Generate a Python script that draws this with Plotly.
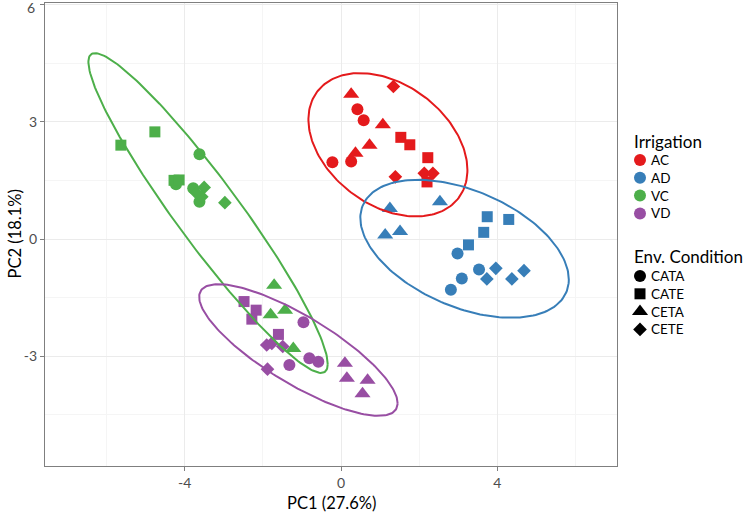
import numpy as np
import plotly.graph_objects as go

# ---------------- data ----------------
irrigation_levels = ["AC", "AD", "VC", "VD"]
irrigation_colors = ["#E41A1C", "#377EB8", "#4DAF4A", "#984EA3"]
env_levels = ["CATA", "CATE", "CETA", "CETE"]
env_symbols = ["circle", "square", "triangle-up", "diamond"]
env_sizes = [12, 11, 14, 10.5]

irrigation = (["AC"] * 16) + (["AD"] * 16) + (["VC"] * 16) + (["VD"] * 16)
env = (["CATA"] * 4 + ["CETA"] * 4 + ["CATE"] * 4 + ["CETE"] * 4) * 4

pc1 = [
    # AC
    0.42, 0.58, 0.26, -0.22,
    0.26, 1.07, 0.73, 0.37,
    1.53, 1.76, 2.22, 2.20,
    1.34, 1.39, 2.13, 2.35,
    # AD
    2.98, 3.53, 3.09, 2.81,
    2.53, 1.25, 1.13, 1.51,
    3.74, 4.29, 3.65, 3.26,
    3.96, 3.73, 4.37, 4.68,
    # VC
    -3.62, -4.22, -3.78, -3.62,
    -1.71, -1.80, -1.43, -1.22,
    -5.63, -4.76, -4.27, -4.14,
    -3.50, -2.97, -3.56, -3.70,
    # VD
    -0.96, -0.81, -0.58, -1.32,
    0.10, 0.15, 0.68, 0.55,
    -2.48, -2.17, -2.28, -1.60,
    -1.90, -1.77, -1.49, -1.88,
]
pc2 = [
    # AC
    3.32, 3.04, 1.98, 1.96,
    3.70, 2.92, 2.40, 2.19,
    2.60, 2.41, 2.08, 1.46,
    3.90, 1.59, 1.68, 1.68,
    # AD
    -0.37, -0.78, -1.01, -1.30,
    0.95, 0.78, 0.10, 0.19,
    0.57, 0.50, 0.17, -0.15,
    -0.75, -1.02, -1.02, -0.81,
    # VC
    2.17, 1.40, 1.30, 0.95,
    -1.18, -1.94, -1.82, -2.80,
    2.40, 2.74, 1.50, 1.51,
    1.32, 0.93, 1.08, 1.18,
    # VD
    -2.13, -3.05, -3.14, -3.22,
    -3.18, -3.56, -3.61, -3.96,
    -1.60, -1.82, -2.05, -2.44,
    -2.71, -2.67, -2.75, -3.33,
]

# 95% ellipse parameters per irrigation group (centre and shape matrix)
ell_cx = [1.20, 3.16, -3.40, -1.09]
ell_cy = [2.41, -0.25, 0.665, -2.84]
ell_sxx = [4.134, 7.109, 9.365, 6.437]
ell_sxy = [-1.313, -2.099, -11.82, -3.446]
ell_syy = [3.363, 3.114, 16.72, 2.836]

x_ticks = [-4, 0, 4]
y_ticks = [-3, 0, 3, 6]
x_title = "PC1 (27.6%)"
y_title = "PC2 (18.1%)"
legend_title_irr = "Irrigation"
legend_title_env = "Env. Condition"

# ---------------- layout constants (pixels) ----------------
W, H = 750, 513
L, T, B = 45, 3, 466          # panel left / top / bottom pixel
R_PANEL = 617                 # panel right pixel
FONT = "Lato"

fig = go.Figure()

# points
pc1_a = np.array(pc1)
pc2_a = np.array(pc2)
irr_a = np.array(irrigation)
env_a = np.array(env)
for gi, g in enumerate(irrigation_levels):
    for ei, e in enumerate(env_levels):
        m = (irr_a == g) & (env_a == e)
        fig.add_trace(go.Scatter(
            x=pc1_a[m], y=pc2_a[m], mode="markers",
            marker=dict(symbol=env_symbols[ei], size=env_sizes[ei],
                        color=irrigation_colors[gi], line=dict(width=0)),
            name=f"{g} {e}", showlegend=False, xaxis="x", yaxis="y"))

# ellipses
t = np.linspace(0, 2 * np.pi, 200)
for gi, g in enumerate(irrigation_levels):
    S = np.array([[ell_sxx[gi], ell_sxy[gi]], [ell_sxy[gi], ell_syy[gi]]])
    Lc = np.linalg.cholesky(S)
    pts = Lc @ np.vstack([np.cos(t), np.sin(t)])
    fig.add_trace(go.Scatter(
        x=ell_cx[gi] + pts[0], y=ell_cy[gi] + pts[1], mode="lines",
        line=dict(color=irrigation_colors[gi], width=2),
        hoverinfo="skip", showlegend=False, xaxis="x", yaxis="y"))

# ---------------- legend (drawn on a pixel-space overlay axis) ----------------
plot_w = W - L
x2_dom0 = 0.82
x2_left = L + x2_dom0 * plot_w
annotations = []
marker_x = 640
text_x = 649
irr_title_y = 141
irr_item_y0, step = 160, 17.8
env_title_y = 256
env_item_y0 = 276

annotations.append(dict(x=632, y=irr_title_y, xref="x2", yref="y2", text=legend_title_irr,
                        showarrow=False, xanchor="left", yanchor="middle",
                        font=dict(family=FONT, size=17, color="#000000")))
for gi, g in enumerate(irrigation_levels):
    yy = irr_item_y0 + gi * step
    fig.add_trace(go.Scatter(x=[marker_x], y=[yy], mode="markers", xaxis="x2", yaxis="y2",
                             marker=dict(symbol="circle", size=12, color=irrigation_colors[gi]),
                             showlegend=False, hoverinfo="skip"))
    annotations.append(dict(x=text_x, y=yy, xref="x2", yref="y2", text=g, showarrow=False,
                            xanchor="left", yanchor="middle",
                            font=dict(family=FONT, size=13.5, color="#000000")))

annotations.append(dict(x=632, y=env_title_y, xref="x2", yref="y2", text=legend_title_env,
                        showarrow=False, xanchor="left", yanchor="middle",
                        font=dict(family=FONT, size=17, color="#000000")))
for ei, e in enumerate(env_levels):
    yy = env_item_y0 + ei * step
    fig.add_trace(go.Scatter(x=[marker_x], y=[yy], mode="markers", xaxis="x2", yaxis="y2",
                             marker=dict(symbol=env_symbols[ei], size=env_sizes[ei], color="#000000"),
                             showlegend=False, hoverinfo="skip"))
    annotations.append(dict(x=text_x, y=yy, xref="x2", yref="y2", text=e, showarrow=False,
                            xanchor="left", yanchor="middle",
                            font=dict(family=FONT, size=13.5, color="#000000")))

# axis titles
def px_to_paper_x(px):
    return (px - L) / plot_w

def px_to_paper_y(py):
    return (B - py) / (B - T)

annotations.append(dict(x=px_to_paper_x((L + R_PANEL) / 2), y=px_to_paper_y(503), xref="paper", yref="paper",
                        text=x_title, showarrow=False, xanchor="center", yanchor="middle",
                        font=dict(family=FONT, size=16.5, color="#000000")))
annotations.append(dict(x=px_to_paper_x(14), y=px_to_paper_y((T + B) / 2), xref="paper", yref="paper",
                        text=y_title, showarrow=False, xanchor="center", yanchor="middle", textangle=-90,
                        font=dict(family=FONT, size=16.5, color="#000000")))

# data ranges matching pixel positions (39.1 px per unit, origin at px 341 / 239)
ppu = 39.1
x0px, y0px = 341, 239
x_range = [(L - x0px) / ppu, (R_PANEL - x0px) / ppu]
y_range = [(y0px - B) / ppu, (y0px - T) / ppu]

# the top tick label sits at the very edge of the figure; draw it just inside
y_ticktext = [str(v) for v in y_ticks]
top_label = y_ticktext[-1]
y_ticktext[-1] = ""
annotations.append(dict(x=px_to_paper_x(36.5), y=px_to_paper_y(8), xref="paper", yref="paper",
                        text=top_label, showarrow=False, xanchor="right", yanchor="middle",
                        font=dict(family=FONT, size=14, color="#4d4d4d")))

axis_common = dict(showline=True, mirror=True, linecolor="#7f7f7f", linewidth=1.3,
                   ticks="outside", ticklen=4, tickcolor="#7f7f7f", tickwidth=1,
                   showgrid=True, gridcolor="#ebebeb", gridwidth=1, zeroline=False,
                   ticklabeloverflow="allow", automargin=False,
                   tickfont=dict(family=FONT, size=14, color="#4d4d4d"))

fig.update_layout(
    width=W, height=H,
    margin=dict(l=L, r=0, t=T, b=H - B, pad=0, autoexpand=False),
    paper_bgcolor="white", plot_bgcolor="white",
    showlegend=False,
    annotations=annotations,
    xaxis=dict(domain=[0, px_to_paper_x(R_PANEL)], range=x_range, tickmode="array", tickvals=x_ticks,
               ticktext=[str(v) for v in x_ticks],
               minor=dict(showgrid=True, gridcolor="#f5f5f5", gridwidth=1, tickvals=[-6, -2, 2, 6]),
               anchor="y", **axis_common),
    yaxis=dict(domain=[0, 1], range=y_range, tickmode="array", tickvals=y_ticks,
               ticktext=y_ticktext,
               minor=dict(showgrid=True, gridcolor="#f5f5f5", gridwidth=1, tickvals=[-4.5, -1.5, 1.5, 4.5]),
               anchor="x", **axis_common),
    xaxis2=dict(domain=[x2_dom0, 1], range=[x2_left, W], visible=False, anchor="y2", fixedrange=True),
    yaxis2=dict(domain=[0, 1], range=[B, T], visible=False, anchor="x2", fixedrange=True),
)

fig.write_html("out.html")
